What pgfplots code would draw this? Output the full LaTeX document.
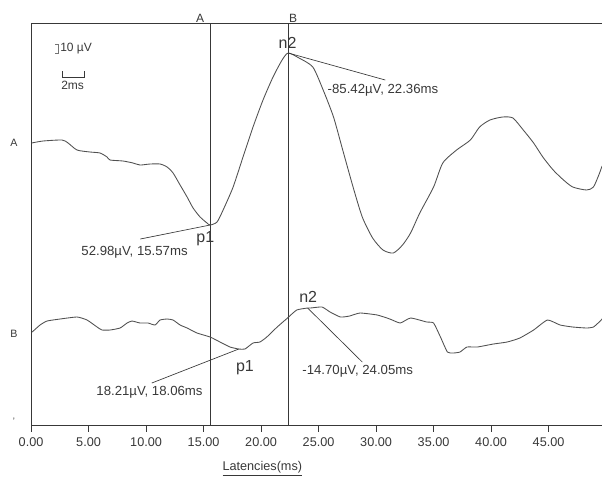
\documentclass[border=0pt]{standalone}
\usepackage{pgfplots}
\pgfplotsset{compat=1.18}
\usepackage{fontspec}
\setmainfont{Liberation Sans}
\definecolor{ink}{HTML}{383838}
\definecolor{trace}{HTML}{505050}
\pgfplotstableread{
t y
0.05 143
1.04 141
2.70 140
3.22 143
4.00 150
5.13 152
6.00 153
6.61 157
6.87 160
8.00 161
8.87 163
9.48 165
10.35 164
11.22 164
11.83 167
12.35 173
12.96 185
13.57 197
14.09 208
14.70 217
15.30 223
15.57 225
16.17 222
16.70 210
17.57 187
18.43 157
19.30 127
20.17 100
21.04 77
21.83 60
22.36 53
23.30 58
24.50 67
25.40 90
26.30 117
27.10 150
28.00 187
28.80 217
29.70 238
30.60 250
31.50 253
32.30 245
33.00 233
33.80 213
35.00 187
35.80 163
37.00 150
38.20 140
39.00 127
39.90 120
41.00 117
41.90 118
42.80 130
43.70 143
44.50 157
45.40 170
46.30 180
47.10 187
48.30 190
48.90 187
49.40 174
49.65 166
}\traceA
\pgfplotstableread{
t y
0.10 332
0.78 325
1.39 321
2.52 319
4.00 317
4.87 320
5.74 327
6.17 330
6.87 330
7.74 328
8.35 323
8.78 321
9.48 323
10.17 323
10.78 325
11.22 320
11.83 319
12.35 320
12.96 325
13.57 328
14.43 333
15.57 337
16.43 342
17.30 347
18.06 349
18.60 349
19.30 343
19.90 342
20.50 337
21.40 327
22.30 318
23.10 310
24.05 308
24.30 308
25.30 307
26.00 312
26.90 317
27.70 316
28.60 313
30.10 315
31.20 319
32.10 323
33.00 318
34.40 322
35.00 323
35.60 337
36.20 352
36.70 353
37.30 352
37.90 347
38.80 347
40.20 344
41.40 342
42.50 338
43.70 330
44.90 320
46.00 325
47.10 327
48.30 328
48.90 327
49.40 322
49.65 319
}\traceB
\begin{document}
\begin{tikzpicture}[x=0.75pt,y=-0.75pt]
\begin{axis}[
  at={(27,425)}, anchor=south west,
  scale only axis, width=428.25pt, height=301.5pt,
  xmin=0, xmax=49.65, ymin=23, ymax=425, y dir=reverse,
  axis x line*=bottom, axis y line*=left,
  axis line style={ink, line width=0.6pt},
  xtick={0,5,...,45},
  xticklabels={0.00,5.00,10.00,15.00,20.00,25.00,30.00,35.00,40.00,45.00},
  ytick=\empty,
  tick align=outside, major tick length=5pt,
  tick style={ink, line width=0.6pt},
  x tick label style={font=\fontsize{9.5}{11}\selectfont, text=ink, yshift=-1pt},
  xlabel={\underline{Latencies(ms)}},
  xlabel style={font=\fontsize{9.5}{11}\selectfont, text=ink, at={(axis description cs:0.405,0)}, anchor=north, yshift=-24pt},
  clip=false,
]
\draw[ink, line width=0.6pt] (axis cs:0,23) -- (axis cs:49.65,23);
\draw[ink, line width=0.6pt] (axis cs:15.57,23) -- (axis cs:15.57,425);
\draw[ink, line width=0.6pt] (axis cs:22.36,23) -- (axis cs:22.36,425);
\addplot[trace, line width=0.65pt, no marks, smooth, tension=0.4] table[x=t, y=y] {\traceA};
\addplot[trace, line width=0.65pt, no marks, smooth, tension=0.3] table[x=t, y=y] {\traceB};
% annotations, trace A
\draw[ink, line width=0.5pt] (axis cs:15.57,225) -- (axis cs:9.5,239);
\node[text=ink, font=\fontsize{9.9}{11}\selectfont, anchor=center] at (axis cs:9.0,252) {52.98µV, 15.57ms};
\node[text=ink, font=\fontsize{12}{13}\selectfont] at (axis cs:15.15,239) {p1};
\draw[ink, line width=0.5pt] (axis cs:22.36,53) -- (axis cs:30.8,80);
\node[text=ink, font=\fontsize{9.9}{11}\selectfont] at (axis cs:30.6,90) {-85.42µV, 22.36ms};
\node[text=ink, font=\fontsize{12}{13}\selectfont] at (axis cs:22.3,43) {n2};
% annotations, trace B
\draw[ink, line width=0.5pt] (axis cs:18.06,349) -- (axis cs:10.5,383);
\node[text=ink, font=\fontsize{9.9}{11}\selectfont] at (axis cs:10.3,392) {18.21µV, 18.06ms};
\node[text=ink, font=\fontsize{12}{13}\selectfont] at (axis cs:18.6,368) {p1};
\draw[ink, line width=0.5pt] (axis cs:24.05,308) -- (axis cs:28.8,362);
\node[text=ink, font=\fontsize{9.9}{11}\selectfont] at (axis cs:28.4,371) {-14.70µV, 24.05ms};
\node[text=ink, font=\fontsize{12}{13}\selectfont] at (axis cs:24.1,297) {n2};
\end{axis}
% cursor and channel labels
\node[text=ink, font=\fontsize{9}{10}\selectfont] at (200,18) {A};
\node[text=ink, font=\fontsize{9}{10}\selectfont] at (293,18) {B};
\node[text=ink, font=\fontsize{8}{9}\selectfont] at (14,143) {A};
\node[text=ink, font=\fontsize{8}{9}\selectfont] at (14,334) {B};
\node[text=ink, font=\fontsize{7}{8}\selectfont] at (14,421) {'};
% scale bars
\draw[ink!70, line width=0.6pt] (55,44) -- (58,44) -- (58,53) -- (55,53);
\node[text=ink, font=\fontsize{9}{10}\selectfont, anchor=west, inner sep=0pt] at (60,48.5) {10 µV};
\draw[ink, line width=0.6pt] (62,71) -- (62,77) -- (84,77) -- (84,71);
\node[text=ink, font=\fontsize{9}{10}\selectfont, anchor=west, inner sep=0pt] at (61,85) {2ms};
\pgfresetboundingbox
\useasboundingbox (0,0) rectangle (602,476);
\end{tikzpicture}
\end{document}
